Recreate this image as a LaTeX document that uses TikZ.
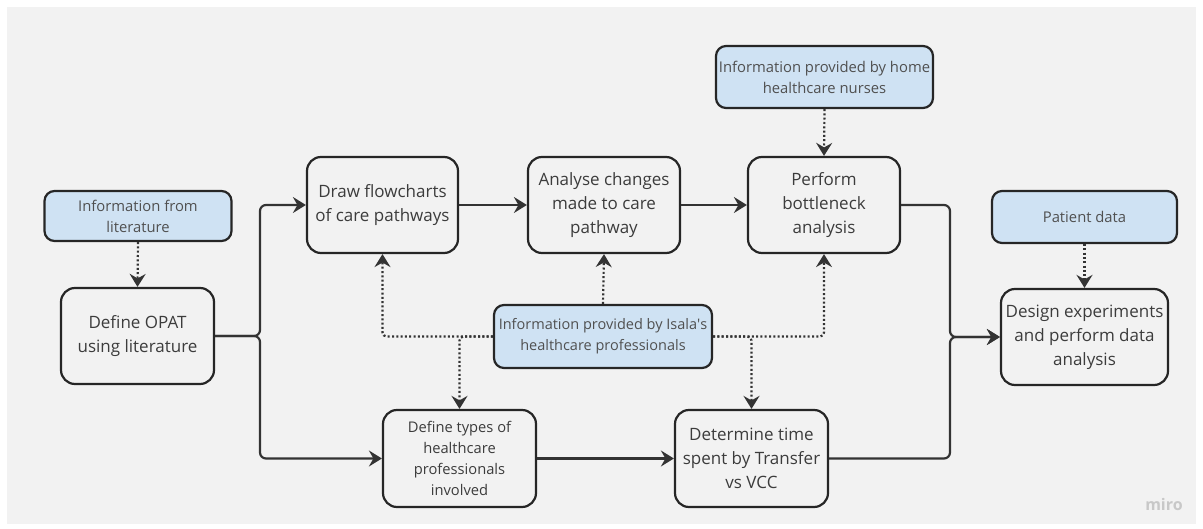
\documentclass[tikz,border=0pt]{standalone}
\usepackage{fontspec}
\setmainfont{Open Sans}
\usetikzlibrary{arrows.meta}
\definecolor{panel}{HTML}{F2F2F2}
\definecolor{bordc}{HTML}{262626}
\definecolor{txtc}{HTML}{3C3C3C}
\definecolor{infoc}{HTML}{CFE2F3}
\definecolor{linec}{HTML}{333333}
\definecolor{miroc}{HTML}{C8C8C8}
\tikzset{
  proc/.style={draw=bordc, line width=2.2pt, fill=panel, rounded corners=14pt,
    align=center, text=txtc, inner sep=1pt, font=\fontsize{17}{24}\selectfont},
  info/.style={draw=bordc, line width=2.2pt, fill=infoc, rounded corners=10pt,
    align=center, text=txtc!90, inner sep=1pt, font=\fontsize{14.8}{21}\selectfont},
  conn/.style={draw=linec, line width=2.2pt, rounded corners=6pt,
    -{Stealth[length=13pt,width=16pt,inset=4.5pt]}},
  dotconn/.style={draw=linec, line width=2.2pt, rounded corners=4pt,
    dash pattern=on 2pt off 2.3pt,
    -{Stealth[length=13pt,width=16pt,inset=4.5pt]}},
}
\begin{document}
\begin{tikzpicture}[x=1pt,y=-1pt]
\useasboundingbox (0,0) rectangle (1203,529);
\fill[white] (0,0) rectangle (1203,529);
\fill[panel] (7,7) rectangle (1196,524);

\node[info, minimum width=187pt, minimum height=50pt] (lit) at (138,216) {Information from\\literature};
\node[proc, minimum width=153pt, minimum height=96pt] (opat) at (137.5,336) {Define OPAT\\using literature};
\node[proc, minimum width=151pt, minimum height=96pt] (flow) at (382.5,205) {Draw flowcharts\\of care pathways};
\node[proc, minimum width=152pt, minimum height=96pt] (analyse) at (604,205) {Analyse changes\\made to care\\pathway};
\node[proc, minimum width=152pt, minimum height=96pt] (perform) at (824,205) {Perform\\bottleneck\\analysis};
\node[info, minimum width=217pt, minimum height=62pt] (nurses) at (824.5,77) {Information provided by home\\healthcare nurses};
\node[info, minimum width=185pt, minimum height=52pt] (patient) at (1084.5,217) {Patient data};
\node[proc, minimum width=167pt, minimum height=96pt] (design) at (1084.5,337) {Design experiments\\and perform data\\analysis};
\node[info, minimum width=218pt, minimum height=63pt, font=\fontsize{14.5}{21}\selectfont] (isala) at (603,336.5) {Information provided by Isala\textquotesingle s\\healthcare professionals};
\node[proc, minimum width=153pt, minimum height=97pt, font=\fontsize{14.7}{21}\selectfont] (types) at (459.5,458.5) {Define types of\\healthcare\\professionals\\involved};
\node[proc, minimum width=153pt, minimum height=97pt] (determine) at (751.5,458.5) {Determine time\\spent by Transfer\\vs VCC};

\coordinate (j1) at (260,336);
\coordinate (j2) at (950,337);

% solid connectors
\draw[conn] (opat.east) -- (j1) |- (flow.west);
\draw[conn] (opat.east) -- (j1) |- (types.west);
\draw[conn] (flow.east) -- (analyse.west);
\draw[conn] (analyse.east) -- (perform.west);
\draw[conn] (types.east) -- (determine.west);
\draw[conn] (perform.east) -- (perform.east -| j2) |- (design.west);
\draw[conn] (determine.east) -- (determine.east -| j2) |- (design.west);

% dotted connectors
\draw[dotconn] (lit.south) -- (opat.north);
\draw[dotconn] (nurses.south) -- (perform.north);
\draw[dotconn] (patient.south) -- (design.north);
\draw[dotconn] (isala.north) -- (analyse.south);
\draw[dotconn] (isala.west) -| (flow.south);
\draw[dotconn] (isala.west) -| (types.north);
\draw[dotconn] (isala.east) -| (perform.south);
\draw[dotconn] (isala.east) -| (determine.north);

\node[text=miroc, font=\fontsize{16}{16}\selectfont\bfseries] (miro) at (1164,504) {miro};
\end{tikzpicture}
\end{document}
